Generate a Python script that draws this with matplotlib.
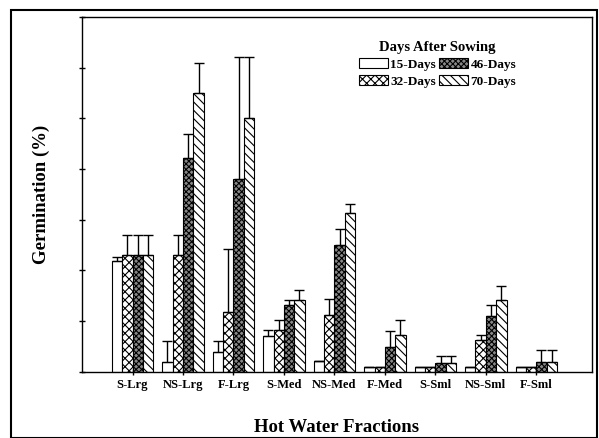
import numpy as np
import matplotlib.pyplot as plt
from matplotlib.patches import Rectangle

fractions = ['S-Lrg', 'NS-Lrg', 'F-Lrg', 'S-Med', 'NS-Med', 'F-Med', 'S-Sml', 'NS-Sml', 'F-Sml']
series = ['15-Days', '32-Days', '46-Days', '70-Days']

d15 = [21.8, 2.0, 4.0, 7.0, 2.2, 1.0, 1.0, 1.0, 1.0]
d32 = [23.1, 23.1, 11.9, 8.3, 11.2, 1.0, 1.0, 6.3, 1.0]
d46 = [23.1, 42.1, 38.0, 13.2, 25.0, 5.0, 1.7, 11.0, 2.0]
d70 = [23.1, 55.0, 50.0, 14.2, 31.3, 7.3, 1.7, 14.1, 2.0]

e15 = [0.9, 4.0, 2.0, 1.3, 0.0, 0.0, 0.0, 0.0, 0.0]
e32 = [3.9, 3.9, 12.3, 2.0, 3.1, 0.0, 0.0, 1.0, 0.0]
e46 = [3.9, 4.9, 24.1, 1.0, 3.1, 3.0, 1.5, 2.1, 2.3]
e70 = [3.9, 6.0, 12.1, 2.0, 1.8, 3.0, 1.5, 2.9, 2.3]

plt.rcParams['font.family'] = ['Liberation Serif', 'DejaVu Serif']
plt.rcParams['hatch.linewidth'] = 0.8

fig = plt.figure(figsize=(5.99, 4.38), dpi=100)
ax = fig.add_axes([0.137, 0.151, 0.851, 0.81])

x = np.arange(1, len(fractions) + 1)
w = 0.205
vals = [d15, d32, d46, d70]
errs = [e15, e32, e46, e70]
hatches = [None, 'xxxx', 'xxxxxx', '\\\\\\\\']
faces = ['white', 'white', '#888888', 'white']

for i, (v, e) in enumerate(zip(vals, errs)):
    xs = x + (i - 1.5) * w
    ax.bar(xs, v, w, color=faces[i], edgecolor='black', linewidth=0.8,
           hatch=hatches[i], label=series[i])
    ax.errorbar(xs, v, yerr=[np.zeros(len(e)), e], fmt='none', ecolor='black',
                elinewidth=1.0, capsize=3.5, capthick=1.0)

ax.set_xlim(0, 10.1)
ax.set_ylim(0, 70)
ax.set_yticks(np.arange(0, 71, 10))
ax.set_yticklabels([])
ax.tick_params(axis='y', direction='inout', length=5, width=1)
ax.set_xticks(x)
ax.set_xticklabels(fractions, fontsize=9, fontweight='bold')
ax.tick_params(axis='x', direction='inout', length=4, width=1, pad=3)
for s in ax.spines.values():
    s.set_linewidth(1.0)

ax.set_ylabel('Germination (%)', fontsize=13.5, fontweight='bold', labelpad=17)
ax.set_xlabel('Hot Water Fractions', fontsize=13.5, fontweight='bold', labelpad=20)

leg = ax.legend(ncol=2, loc='upper right', bbox_to_anchor=(0.875, 0.965),
                frameon=False, fontsize=9.5, title='Days After Sowing',
                handlelength=2.2, handleheight=0.8, handletextpad=0.2,
                columnspacing=0.2, labelspacing=0.3)
leg.get_title().set_fontweight('bold')
leg.get_title().set_fontsize(10.5)
for t in leg.get_texts():
    t.set_fontweight('bold')

fig.patches.append(Rectangle((0.018, 0.0), 0.978, 0.978, transform=fig.transFigure,
                             fill=False, edgecolor='black', linewidth=1.5))

fig.savefig('out.png', dpi=100)
